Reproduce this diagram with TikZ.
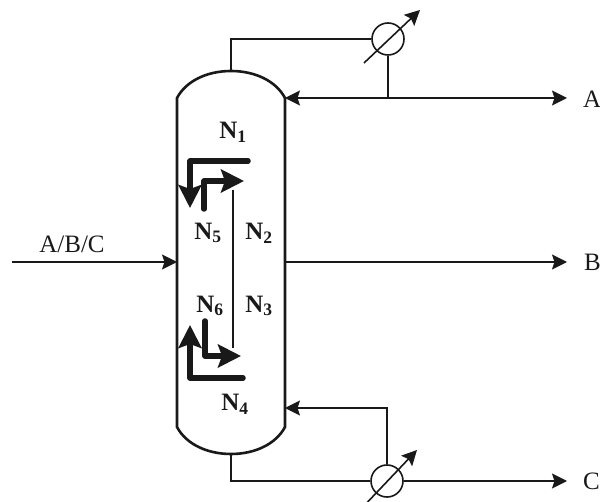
\documentclass[tikz,border=0pt]{standalone}
\usepackage{fontspec}
\setmainfont{Liberation Serif}
\usetikzlibrary{arrows.meta}
\tikzset{
  thinline/.style={draw=black!90,line width=1.6pt},
  flow/.style={thinline,-{Stealth[length=15pt,width=15pt,inset=2.5pt]}},
  thickflow/.style={draw=black!90,line width=5.5pt,line cap=round,line join=round,-{Stealth[length=23pt,width=23pt,inset=4pt]}},
  hx/.style={circle,draw=black!90,line width=1.6pt,minimum size=32pt,inner sep=0pt},
  lab/.style={font=\fontsize{25}{25}\selectfont,inner sep=0pt,text=black!90},
  stage/.style={font=\fontsize{25}{25}\selectfont\bfseries,inner sep=0pt,text=black!90},
}
\begin{document}
\begin{tikzpicture}[x=1pt,y=-1pt]
\useasboundingbox (0,0) rectangle (600,502);
% column
\draw[draw=black!90,line width=2.6pt] (177,98) .. controls (186,81) and (207,71) .. (231,71)
  .. controls (255,71) and (276,81) .. (285,98) -- (285,427)
  .. controls (276,444) and (255,454) .. (231,454)
  .. controls (207,454) and (186,444) .. (177,427) -- cycle;
\coordinate (top) at (231,71);
\coordinate (bot) at (231,454);
\coordinate (lfeed) at (177,262);
\coordinate (rA) at (285,98);
\coordinate (rB) at (285,262);
\coordinate (rC) at (285,408);
\coordinate (feedin) at (12,262);
\coordinate (outA) at (567,98);
\coordinate (outB) at (567,262);
\coordinate (outC) at (567,481);
\coordinate (wallT) at (233,190);
\coordinate (wallB) at (233,348);
\node[hx] (cond) at (388,39) {};
\node[hx] (reb) at (387,481) {};
\coordinate (tee) at (388,98);
% thin lines
\draw[thinline] (top) |- (cond.west);
\draw[thinline] (cond.south) -- (tee);
\draw[flow] (tee) -- (rA);
\draw[flow] (tee) -- (outA);
\draw[flow] (rB) -- (outB);
\draw[flow] (feedin) -- (lfeed);
\draw[thinline] (bot) |- (reb.west);
\draw[flow] (reb.east) -- (outC);
\draw[flow] (reb.north) |- (rC);
\draw[thinline] (wallT) -- (wallB);
% exchanger arrows
\coordinate (c1) at (364,63); \coordinate (c2) at (420,10);
\coordinate (r1) at (361,509); \coordinate (r2) at (417,450);
\draw[flow] (c1) -- (c2);
\draw[flow] (r1) -- (r2);
% thick arrows
\draw[thickflow] (248,161) -- (190,161) -- (190,208);
\draw[thickflow] (204,209) -- (204,181) -- (244,181);
\draw[thickflow] (243,378) -- (190,378) -- (190,325);
\draw[thickflow] (205,321) -- (205,356) -- (241,356);
% labels
\node[stage] (n1) at (233,132) {N\textsubscript{1}};
\node[stage] (n5) at (208,233) {N\textsubscript{5}};
\node[stage] (n2) at (259,233) {N\textsubscript{2}};
\node[stage] (n6) at (210,306) {N\textsubscript{6}};
\node[stage] (n3) at (259,306) {N\textsubscript{3}};
\node[stage] (n4) at (235,404) {N\textsubscript{4}};
\node[lab] (feed) at (72,244) {A/B/C};
\node[lab,anchor=west] (la) at (583,99) {A};
\node[lab,anchor=west] (lb) at (584,262) {B};
\node[lab,anchor=west] (lc) at (583,481) {C};
\end{tikzpicture}
\end{document}
